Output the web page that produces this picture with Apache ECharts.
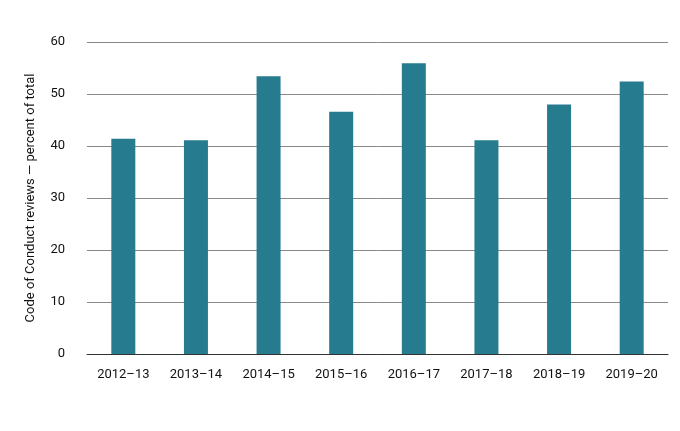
<!DOCTYPE html>
<html><head><meta charset="utf-8">
<script src="https://cdn.jsdelivr.net/npm/echarts@6/dist/echarts.min.js"></script>
<style>html,body{margin:0;padding:0;background:#fff}#c{width:680px;height:431px}</style>
</head><body><div id="c"></div>
<script>
const categories = ['2012–13','2013–14','2014–15','2015–16','2016–17','2017–18','2018–19','2019–20'];
const values = [41.4, 41.1, 53.4, 46.6, 55.9, 41.1, 48.0, 52.4];
const font = '"Liberation Sans Narrow", "Roboto", sans-serif';
const chart = echarts.init(document.getElementById('c'));
chart.setOption({
  animation:false,
  grid:{left:87,right:12,top:42,bottom:77},
  xAxis:{type:'category',data:categories,
    axisLine:{lineStyle:{color:'#333'}},axisTick:{show:false},
    axisLabel:{color:'#111',fontFamily:font,fontSize:13,margin:14,interval:0}},
  yAxis:{type:'value',min:0,max:60,interval:10,
    name:'Code of Conduct reviews — percent of total',nameLocation:'middle',nameGap:50,
    nameTextStyle:{color:'#111',fontFamily:font,fontSize:13},
    axisLabel:{color:'#111',fontFamily:font,fontSize:13,margin:22},
    splitLine:{lineStyle:{color:'#888'}}},
  series:[{type:'bar',data:values,barWidth:24,itemStyle:{color:'#267b8f'}}]
});
</script></body></html>
